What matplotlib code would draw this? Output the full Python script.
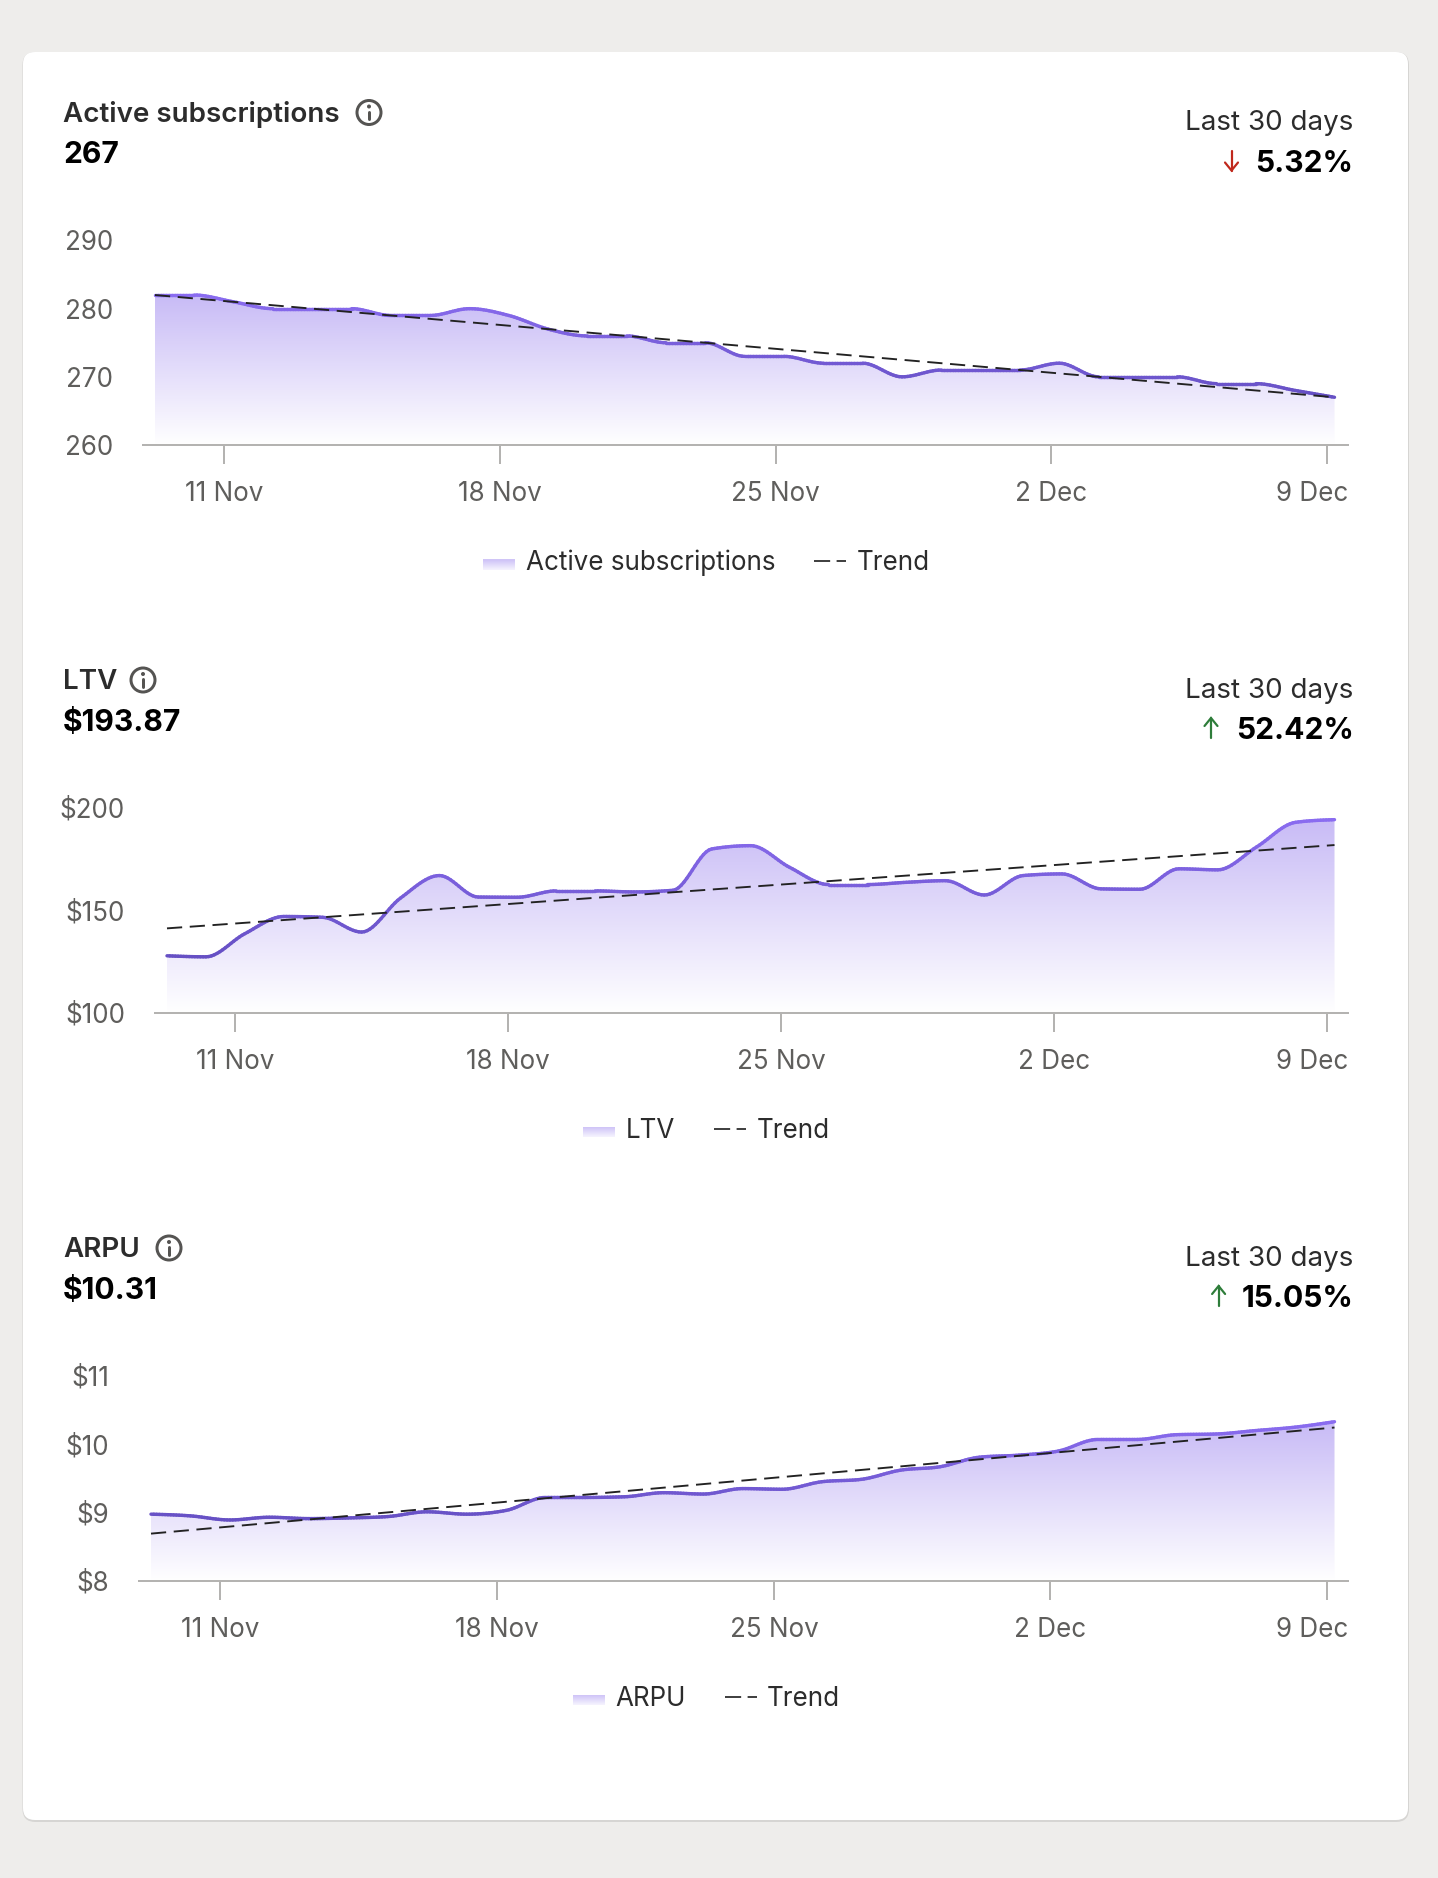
import numpy as np
import matplotlib
matplotlib.use("Agg")
import matplotlib.pyplot as plt
from matplotlib.collections import LineCollection
from matplotlib.colors import LinearSegmentedColormap
from matplotlib.legend_handler import HandlerBase
from matplotlib.lines import Line2D
from matplotlib.patches import Circle, FancyBboxPatch, Patch, Rectangle
from matplotlib.transforms import ScaledTranslation

plt.rcParams["font.family"] = ["Inter", "DejaVu Sans"]

W, H = 1438, 1878
PX = 72 / 100  # points per pixel at dpi 100

# ---------- data ----------
tick_days = [1.76, 8.77, 15.79, 22.79, 29.8]
tick_labels = ["11 Nov", "18 Nov", "25 Nov", "2 Dec", "9 Dec"]

subs_values = [282, 282, 281, 280, 280, 280, 279, 279, 280, 279, 277, 276, 276, 275, 275, 273,
               273, 272, 272, 270, 271, 271, 271, 272, 270, 270, 270, 269, 269, 268, 267]
subs_trend = [282.0, 267.0]
subs_yticks = [260, 270, 280, 290]
subs_ylabels = ["260", "270", "280", "290"]

ltv_values = [127.8, 127.3, 138.6, 147, 146.6, 139.4, 156, 167, 156.5, 156.4, 159.5, 159.5, 159,
              159.8, 180, 181.6, 171, 162.6, 162.6, 163.7, 164.5, 157.5, 167, 167.8, 160.5, 160.3,
              170.3, 169.8, 181, 193, 194.3]
ltv_trend = [141.2, 181.9]
ltv_yticks = [100, 150, 200]
ltv_ylabels = ["$100", "$150", "$200"]

arpu_values = [8.975, 8.95, 8.89, 8.93, 8.91, 8.92, 8.94, 9.01, 8.975, 9.03, 9.22, 9.22, 9.23,
               9.29, 9.27, 9.35, 9.34, 9.45, 9.485, 9.62, 9.67, 9.81, 9.84, 9.90, 10.07, 10.07,
               10.14, 10.15, 10.20, 10.25, 10.33]
arpu_trend = [8.69, 10.245]
arpu_yticks = [8, 9, 10, 11]
arpu_ylabels = ["$8", "$9", "$10", "$11"]

charts = [
    dict(name="Active subscriptions", headline="267", change="5.32%", up=False,
         values=subs_values, trend=subs_trend, yticks=subs_yticks, ylabels=subs_ylabels,
         axis_left=143, data_left=155, base=445, top=240.5, head=112.5, icon_x=369, arrow_x=1231.5),
    dict(name="LTV", headline="$193.87", change="52.42%", up=True,
         values=ltv_values, trend=ltv_trend, yticks=ltv_yticks, ylabels=ltv_ylabels,
         axis_left=155, data_left=167, base=1012.7, top=808, head=680, icon_x=143, arrow_x=1211),
    dict(name="ARPU", headline="$10.31", change="15.05%", up=True,
         values=arpu_values, trend=arpu_trend, yticks=arpu_yticks, ylabels=arpu_ylabels,
         axis_left=139, data_left=151, base=1580.7, top=1376, head=1248, icon_x=169, arrow_x=1218.6),
]

# ---------- styles ----------
AXIS_RIGHT, DATA_RIGHT = 1348, 1334.5
INK, MUTED, GREY = "#2c2c2c", "#5f5e5c", "#b4b3b1"
LABEL_SIZE = 18.72
fill_cmap = LinearSegmentedColormap.from_list("fill", ["#ffffff", "#c8bbf6"])
line_cmap = LinearSegmentedColormap.from_list("stroke", ["#6650c4", "#8a6cf0"])


def monotone_curve(x, y, samples=14):
    """d3 curveMonotoneX drawing of the points, as the chart's line is rendered."""
    x, y = np.asarray(x, float), np.asarray(y, float)
    h = np.diff(x)
    s = np.diff(y) / h
    m = np.zeros_like(y)
    for i in range(1, len(y) - 1):
        if s[i - 1] * s[i] > 0:
            p = (s[i - 1] * h[i] + s[i] * h[i - 1]) / (h[i - 1] + h[i])
            m[i] = (np.sign(s[i - 1]) + np.sign(s[i])) * min(abs(s[i - 1]), abs(s[i]), 0.5 * abs(p))
    m[0] = (3 * s[0] - m[1]) / 2
    m[-1] = (3 * s[-1] - m[-2]) / 2
    xs, ys = [], []
    for i in range(len(h)):
        t = np.linspace(0, 1, samples, endpoint=False)
        xs.append(x[i] + t * h[i])
        ys.append((2*t**3 - 3*t**2 + 1) * y[i] + (t**3 - 2*t**2 + t) * h[i] * m[i]
                  + (-2*t**3 + 3*t**2) * y[i + 1] + (t**3 - t**2) * h[i] * m[i + 1])
    return np.concatenate(xs + [x[-1:]]), np.concatenate(ys + [y[-1:]])


class GradientSwatch(HandlerBase):
    def create_artists(self, legend, orig, xd, yd, width, height, fontsize, trans):
        n = 10
        sw_h = 10 * PX
        y0 = -yd + height / 2 - sw_h / 2 - 3.5 * PX
        return [Rectangle((-xd, y0 + sw_h * k / n), width, sw_h / n + 0.2, transform=trans,
                          facecolor=fill_cmap(0.2 + 0.65 * k / (n - 1)), edgecolor="none")
                for k in range(n)]


fig = plt.figure(figsize=(W / 100, H / 100), dpi=100, facecolor="#eeedeb")

bg = fig.add_axes([0, 0, 1, 1], zorder=0)
bg.set_xlim(0, W)
bg.set_ylim(H, 0)
bg.axis("off")
bg.add_patch(FancyBboxPatch((22.5, 52), 1386.5, 1770, boxstyle="round,pad=0,rounding_size=13",
                            fc="#d6d5d3", ec="none"))
bg.add_patch(FancyBboxPatch((23, 52), 1385, 1768, boxstyle="round,pad=0,rounding_size=12",
                            fc="white", ec="none"))

for c in charts:
    vals = np.array(c["values"], float)
    days = np.arange(len(vals))
    per_day = (DATA_RIGHT - c["data_left"]) / (len(vals) - 1)
    x0 = (c["axis_left"] - c["data_left"]) / per_day
    x1 = (AXIS_RIGHT - c["data_left"]) / per_day

    ax = fig.add_axes([c["axis_left"] / W, 1 - c["base"] / H,
                       (AXIS_RIGHT - c["axis_left"]) / W, (c["base"] - c["top"]) / H],
                      facecolor="none", zorder=2)
    for side in ("top", "left", "right"):
        ax.spines[side].set_visible(False)
    ax.spines["bottom"].set_color(GREY)
    ax.spines["bottom"].set_linewidth(2 * PX)
    ax.set_xticks(tick_days, tick_labels)
    ax.set_yticks(c["yticks"], c["ylabels"])
    ax.tick_params(axis="x", length=19 * PX, width=2 * PX, color=GREY, pad=17.3 * PX,
                   labelsize=LABEL_SIZE, labelcolor=MUTED)
    ax.tick_params(axis="y", length=0, pad=30 * PX, labelsize=LABEL_SIZE, labelcolor=MUTED)

    # the last date label is kept inside the axis end, as in the reference
    last = ax.get_xticklabels()[-1]
    last.set_ha("right")
    last.set_transform(last.get_transform()
                       + ScaledTranslation(22 * PX / 72, 0, fig.dpi_scale_trans))

    cx, cy = monotone_curve(days, vals)
    ymin = c["yticks"][0]
    poly = ax.fill_between(cx, ymin, cy, color="none", linewidth=0)
    grad = ax.imshow(np.linspace(1, 0, 256)[:, None], cmap=fill_cmap, vmin=0, vmax=1, aspect="auto",
                     extent=(days[0], days[-1], ymin, cy.max()), zorder=1, interpolation="bilinear")
    grad.set_clip_path(poly.get_paths()[0], transform=ax.transData)
    ax.set_xlim(x0, x1)
    ax.set_ylim(c["yticks"][0], c["yticks"][-1])

    pts = np.column_stack([cx, cy])
    segs = np.stack([pts[:-1], pts[1:]], axis=1)
    shade = np.clip((cy[:-1] - cy.min()) / (cy.max() - cy.min()), 0, 1)
    lc = LineCollection(segs, linewidths=3.4 * PX, capstyle="round", zorder=3, colors=line_cmap(shade))
    ax.add_collection(lc, autolim=False)
    ax.plot([days[0], days[-1]], c["trend"], color="#222222", lw=1.9 * PX, dashes=(8, 4), zorder=4)

    handles = [Patch(label=c["name"]),
               Line2D([], [], color="#222222", lw=1.7 * PX, dashes=(9.5, 3.8), label="Trend")]
    fig.legend(handles=handles, loc="center", frameon=False, fontsize=LABEL_SIZE, labelcolor=INK,
               bbox_to_anchor=(706.5 / W, 1 - (c["base"] + 118) / H), ncol=2,
               handlelength=1.23, handletextpad=0.4, columnspacing=1.5,
               handler_map={Patch: GradientSwatch()})

    # header, drawn in pixel coordinates
    h = c["head"]
    ix = c["icon_x"]
    bg.text(63, h + 2, c["name"], fontsize=20, fontweight=600, color=INK, va="center", ha="left")
    bg.text(63, h + 42.5, c["headline"], fontsize=21.6, fontweight=700, color="black", va="center", ha="left")
    bg.add_patch(Circle((ix, h), 12, fc="none", ec="#555452", lw=3 * PX))
    bg.plot([ix, ix], [h - 1, h + 6.5], color="#555452", lw=3 * PX, solid_capstyle="round")
    bg.add_patch(Circle((ix, h - 6), 2, fc="#555452", ec="none"))
    bg.text(1353, h + 10.5, "Last 30 days", fontsize=20, color=INK, va="center", ha="right")
    bg.text(1353.5, h + 51, c["change"], fontsize=21.6, fontweight=700, color="black", va="center", ha="right")
    ax_, ac = c["arrow_x"], ("#2e7d3a" if c["up"] else "#c0281c")
    a0, a1 = h + 38, h + 58
    tip, back = (a0, a0 + 8) if c["up"] else (a1, a1 - 8)
    bg.plot([ax_, ax_], [a0, a1], color=ac, lw=2.2 * PX, solid_capstyle="round")
    bg.plot([ax_ - 6.5, ax_, ax_ + 6.5], [back, tip, back], color=ac, lw=2.2 * PX,
            solid_capstyle="round", solid_joinstyle="miter")

fig.savefig("out.png", dpi=100, facecolor=fig.get_facecolor())
